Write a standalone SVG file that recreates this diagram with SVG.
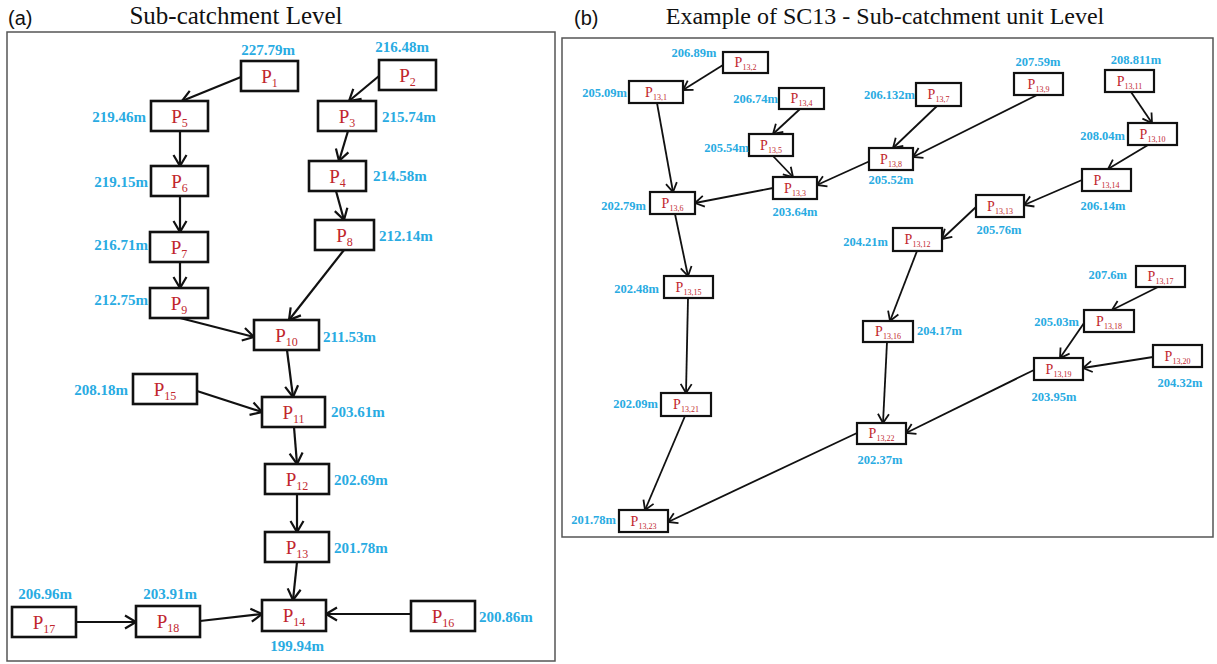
<svg xmlns="http://www.w3.org/2000/svg" width="1217" height="664" viewBox="0 0 1217 664">
<style>
.frame{fill:none;stroke:#555;stroke-width:1.5}
.ttl{font-family:"Liberation Serif",serif;fill:#111}
.lbl{font-family:"Liberation Sans",sans-serif;font-size:20px;fill:#111}
.na rect{fill:#fff;stroke:#111;stroke-width:2.6}
.nb rect{fill:#fff;stroke:#111;stroke-width:2.2}
.pa{font-family:"Liberation Serif",serif;font-size:19px;fill:#c1272d;text-anchor:middle}
.pb{font-family:"Liberation Serif",serif;font-size:14px;fill:#c1272d;text-anchor:middle}
.va{font-family:"Liberation Serif",serif;font-weight:bold;font-size:15px;fill:#29abe2}
.vb{font-family:"Liberation Serif",serif;font-weight:bold;font-size:12.5px;fill:#29abe2}
.m{text-anchor:middle}.e{text-anchor:end}.s{text-anchor:start}
.ea line{stroke:#111;stroke-width:2.2;marker-end:url(#ma)}
.eb line{stroke:#111;stroke-width:1.8;marker-end:url(#mb)}
</style>
<defs>
<marker id="ma" viewBox="-13 -8 15 16" refX="0" refY="0" markerUnits="userSpaceOnUse" markerWidth="15" markerHeight="16" orient="auto" overflow="visible">
<path d="M-11,-6.5 L0,0 L-11,6.5" fill="none" stroke="#111" stroke-width="2.2"/>
</marker>
<marker id="mb" viewBox="-12 -8 14 16" refX="0" refY="0" markerUnits="userSpaceOnUse" markerWidth="14" markerHeight="16" orient="auto" overflow="visible">
<path d="M-9,-5.5 L0,0 L-9,5.5" fill="none" stroke="#111" stroke-width="1.8"/>
</marker>
</defs>
<rect width="1217" height="664" fill="#fff"/>
<text class="lbl" x="8" y="25">(a)</text>
<text class="ttl" x="236" y="24" font-size="25" text-anchor="middle">Sub-catchment Level</text>
<rect class="frame" x="7" y="32" width="548" height="629"/>
<text class="lbl" x="574" y="25">(b)</text>
<text class="ttl" x="885" y="24" font-size="24" text-anchor="middle">Example of SC13 - Sub-catchment unit Level</text>
<rect class="frame" x="562" y="38" width="651" height="499"/>

<g id="connectors-a" class="ea">
<line x1="241" y1="77" x2="182" y2="101"/>
<line x1="379" y1="76" x2="349" y2="101"/>
<line x1="180" y1="131" x2="180" y2="166"/>
<line x1="348" y1="131" x2="339" y2="161"/>
<line x1="336" y1="191" x2="344" y2="220"/>
<line x1="180" y1="196" x2="180" y2="232"/>
<line x1="180" y1="262" x2="180" y2="288"/>
<line x1="180" y1="318" x2="254" y2="337"/>
<line x1="344" y1="250" x2="289" y2="320"/>
<line x1="287" y1="350" x2="293" y2="397"/>
<line x1="197" y1="391" x2="262" y2="412"/>
<line x1="294" y1="427" x2="297" y2="464"/>
<line x1="297" y1="494" x2="297" y2="532"/>
<line x1="297" y1="562" x2="293" y2="600"/>
<line x1="76" y1="622" x2="136" y2="622"/>
<line x1="200" y1="621" x2="262" y2="614"/>
<line x1="411" y1="614" x2="326" y2="614"/>
</g>

<g id="connectors-b" class="eb">
<line x1="723" y1="65" x2="683" y2="90"/>
<line x1="657" y1="103" x2="673" y2="192"/>
<line x1="800" y1="109" x2="773" y2="134"/>
<line x1="773" y1="156" x2="793" y2="177"/>
<line x1="870" y1="161" x2="817" y2="185"/>
<line x1="773" y1="188" x2="695" y2="203"/>
<line x1="675" y1="214" x2="688" y2="276"/>
<line x1="937" y1="106" x2="893" y2="148"/>
<line x1="1037" y1="95" x2="913" y2="157"/>
<line x1="1131" y1="92" x2="1152" y2="123"/>
<line x1="1148" y1="145" x2="1108" y2="169"/>
<line x1="1082" y1="180" x2="1024" y2="205"/>
<line x1="976" y1="207" x2="942" y2="239"/>
<line x1="917" y1="251" x2="890" y2="321"/>
<line x1="688" y1="298" x2="686" y2="393"/>
<line x1="685" y1="416" x2="645" y2="510"/>
<line x1="857" y1="433" x2="668" y2="522"/>
<line x1="887" y1="342" x2="883" y2="423"/>
<line x1="1034" y1="370" x2="906" y2="433"/>
<line x1="1158" y1="287" x2="1112" y2="310"/>
<line x1="1084" y1="323" x2="1060" y2="358"/>
<line x1="1153" y1="357" x2="1083" y2="368"/>
</g>

<g id="P1" class="na"><rect x="241" y="61" width="57" height="30"/><text class="pa" x="269.5" y="83">P<tspan font-size="12" dy="4">1</tspan></text><text class="va m" x="268" y="55">227.79m</text></g>
<g id="P2" class="na"><rect x="379" y="60" width="57" height="30"/><text class="pa" x="407.5" y="82">P<tspan font-size="12" dy="4">2</tspan></text><text class="va m" x="402" y="52">216.48m</text></g>
<g id="P5" class="na"><rect x="151" y="101" width="57" height="30"/><text class="pa" x="179.5" y="123">P<tspan font-size="12" dy="4">5</tspan></text><text class="va e" x="146" y="122">219.46m</text></g>
<g id="P3" class="na"><rect x="318" y="101" width="58" height="30"/><text class="pa" x="347" y="123">P<tspan font-size="12" dy="4">3</tspan></text><text class="va s" x="382" y="122">215.74m</text></g>
<g id="P6" class="na"><rect x="151" y="166" width="57" height="30"/><text class="pa" x="179.5" y="188">P<tspan font-size="12" dy="4">6</tspan></text><text class="va e" x="148" y="187">219.15m</text></g>
<g id="P4" class="na"><rect x="309" y="161" width="57" height="30"/><text class="pa" x="337.5" y="183">P<tspan font-size="12" dy="4">4</tspan></text><text class="va s" x="373" y="181">214.58m</text></g>
<g id="P7" class="na"><rect x="150" y="232" width="58" height="30"/><text class="pa" x="179" y="254">P<tspan font-size="12" dy="4">7</tspan></text><text class="va e" x="148" y="250">216.71m</text></g>
<g id="P8" class="na"><rect x="315" y="220" width="59" height="30"/><text class="pa" x="344.5" y="242">P<tspan font-size="12" dy="4">8</tspan></text><text class="va s" x="379" y="241">212.14m</text></g>
<g id="P9" class="na"><rect x="150" y="288" width="58" height="30"/><text class="pa" x="179" y="310">P<tspan font-size="12" dy="4">9</tspan></text><text class="va e" x="148" y="305">212.75m</text></g>
<g id="P10" class="na"><rect x="254" y="320" width="65" height="30"/><text class="pa" x="286.5" y="342">P<tspan font-size="12" dy="4">10</tspan></text><text class="va s" x="323" y="342">211.53m</text></g>
<g id="P15" class="na"><rect x="133" y="374" width="64" height="30"/><text class="pa" x="165" y="396">P<tspan font-size="12" dy="4">15</tspan></text><text class="va e" x="128" y="395">208.18m</text></g>
<g id="P11" class="na"><rect x="262" y="397" width="63" height="30"/><text class="pa" x="293.5" y="419">P<tspan font-size="12" dy="4">11</tspan></text><text class="va s" x="331" y="417">203.61m</text></g>
<g id="P12" class="na"><rect x="265" y="464" width="64" height="30"/><text class="pa" x="297" y="486">P<tspan font-size="12" dy="4">12</tspan></text><text class="va s" x="334" y="485">202.69m</text></g>
<g id="P13" class="na"><rect x="265" y="532" width="64" height="30"/><text class="pa" x="297" y="554">P<tspan font-size="12" dy="4">13</tspan></text><text class="va s" x="334" y="553">201.78m</text></g>
<g id="P14" class="na"><rect x="262" y="600" width="64" height="31"/><text class="pa" x="294" y="622">P<tspan font-size="12" dy="4">14</tspan></text><text class="va m" x="297" y="651">199.94m</text></g>
<g id="P17" class="na"><rect x="12" y="607" width="64" height="30"/><text class="pa" x="44" y="629">P<tspan font-size="12" dy="4">17</tspan></text><text class="va m" x="45" y="599">206.96m</text></g>
<g id="P18" class="na"><rect x="136" y="606" width="64" height="31"/><text class="pa" x="168" y="628">P<tspan font-size="12" dy="4">18</tspan></text><text class="va m" x="170" y="599">203.91m</text></g>
<g id="P16" class="na"><rect x="411" y="601" width="64" height="30"/><text class="pa" x="443" y="623">P<tspan font-size="12" dy="4">16</tspan></text><text class="va s" x="479" y="622">200.86m</text></g>

<g id="P13-2" class="nb"><rect x="723" y="52" width="45" height="21"/><text class="pb" x="745.5" y="67">P<tspan font-size="8" dy="3">13,2</tspan></text><text class="vb m" x="694" y="57">206.89m</text></g>
<g id="P13-1" class="nb"><rect x="629" y="81" width="54" height="22"/><text class="pb" x="656" y="97">P<tspan font-size="8" dy="3">13,1</tspan></text><text class="vb e" x="627" y="97">205.09m</text></g>
<g id="P13-4" class="nb"><rect x="779" y="88" width="45" height="21"/><text class="pb" x="801.5" y="103">P<tspan font-size="8" dy="3">13,4</tspan></text><text class="vb e" x="778" y="103">206.74m</text></g>
<g id="P13-5" class="nb"><rect x="749" y="134" width="44" height="22"/><text class="pb" x="771" y="150">P<tspan font-size="8" dy="3">13,5</tspan></text><text class="vb e" x="749" y="152">205.54m</text></g>
<g id="P13-3" class="nb"><rect x="773" y="177" width="44" height="22"/><text class="pb" x="795" y="193">P<tspan font-size="8" dy="3">13,3</tspan></text><text class="vb m" x="795" y="216">203.64m</text></g>
<g id="P13-6" class="nb"><rect x="650" y="192" width="45" height="22"/><text class="pb" x="672.5" y="208">P<tspan font-size="8" dy="3">13,6</tspan></text><text class="vb e" x="646" y="210">202.79m</text></g>
<g id="P13-7" class="nb"><rect x="916" y="83" width="45" height="23"/><text class="pb" x="938.5" y="99">P<tspan font-size="8" dy="3">13,7</tspan></text><text class="vb e" x="915" y="99">206.132m</text></g>
<g id="P13-8" class="nb"><rect x="869" y="148" width="44" height="22"/><text class="pb" x="891" y="164">P<tspan font-size="8" dy="3">13,8</tspan></text><text class="vb m" x="891" y="184">205.52m</text></g>
<g id="P13-9" class="nb"><rect x="1014" y="73" width="49" height="22"/><text class="pb" x="1038.5" y="89">P<tspan font-size="8" dy="3">13,9</tspan></text><text class="vb m" x="1038" y="66">207.59m</text></g>
<g id="P13-11" class="nb"><rect x="1105" y="70" width="49" height="22"/><text class="pb" x="1129.5" y="86">P<tspan font-size="8" dy="3">13,11</tspan></text><text class="vb m" x="1136" y="64">208.811m</text></g>
<g id="P13-10" class="nb"><rect x="1128" y="123" width="49" height="22"/><text class="pb" x="1152.5" y="139">P<tspan font-size="8" dy="3">13,10</tspan></text><text class="vb e" x="1125" y="140">208.04m</text></g>
<g id="P13-14" class="nb"><rect x="1082" y="169" width="49" height="22"/><text class="pb" x="1106.5" y="185">P<tspan font-size="8" dy="3">13,14</tspan></text><text class="vb m" x="1103" y="210">206.14m</text></g>
<g id="P13-13" class="nb"><rect x="976" y="195" width="48" height="22"/><text class="pb" x="1000" y="211">P<tspan font-size="8" dy="3">13,13</tspan></text><text class="vb m" x="999" y="234">205.76m</text></g>
<g id="P13-12" class="nb"><rect x="893" y="228" width="49" height="23"/><text class="pb" x="917.5" y="244">P<tspan font-size="8" dy="3">13,12</tspan></text><text class="vb e" x="888" y="246">204.21m</text></g>
<g id="P13-15" class="nb"><rect x="664" y="276" width="49" height="22"/><text class="pb" x="688.5" y="292">P<tspan font-size="8" dy="3">13,15</tspan></text><text class="vb e" x="659" y="293">202.48m</text></g>
<g id="P13-21" class="nb"><rect x="661" y="393" width="50" height="23"/><text class="pb" x="686" y="409">P<tspan font-size="8" dy="3">13,21</tspan></text><text class="vb e" x="658" y="408">202.09m</text></g>
<g id="P13-23" class="nb"><rect x="619" y="510" width="49" height="22"/><text class="pb" x="643.5" y="526">P<tspan font-size="8" dy="3">13,23</tspan></text><text class="vb e" x="616" y="524">201.78m</text></g>
<g id="P13-16" class="nb"><rect x="863" y="321" width="50" height="21"/><text class="pb" x="888" y="336">P<tspan font-size="8" dy="3">13,16</tspan></text><text class="vb s" x="917" y="335">204.17m</text></g>
<g id="P13-22" class="nb"><rect x="857" y="423" width="49" height="21"/><text class="pb" x="881.5" y="438">P<tspan font-size="8" dy="3">13,22</tspan></text><text class="vb m" x="880" y="464">202.37m</text></g>
<g id="P13-17" class="nb"><rect x="1136" y="266" width="49" height="21"/><text class="pb" x="1160.5" y="281">P<tspan font-size="8" dy="3">13,17</tspan></text><text class="vb e" x="1127" y="279">207.6m</text></g>
<g id="P13-18" class="nb"><rect x="1084" y="310" width="50" height="22"/><text class="pb" x="1109" y="326">P<tspan font-size="8" dy="3">13,18</tspan></text><text class="vb e" x="1079" y="326">205.03m</text></g>
<g id="P13-19" class="nb"><rect x="1034" y="358" width="49" height="22"/><text class="pb" x="1058.5" y="374">P<tspan font-size="8" dy="3">13,19</tspan></text><text class="vb m" x="1054" y="401">203.95m</text></g>
<g id="P13-20" class="nb"><rect x="1153" y="345" width="49" height="22"/><text class="pb" x="1177.5" y="361">P<tspan font-size="8" dy="3">13,20</tspan></text><text class="vb m" x="1180" y="387">204.32m</text></g>
</svg>
